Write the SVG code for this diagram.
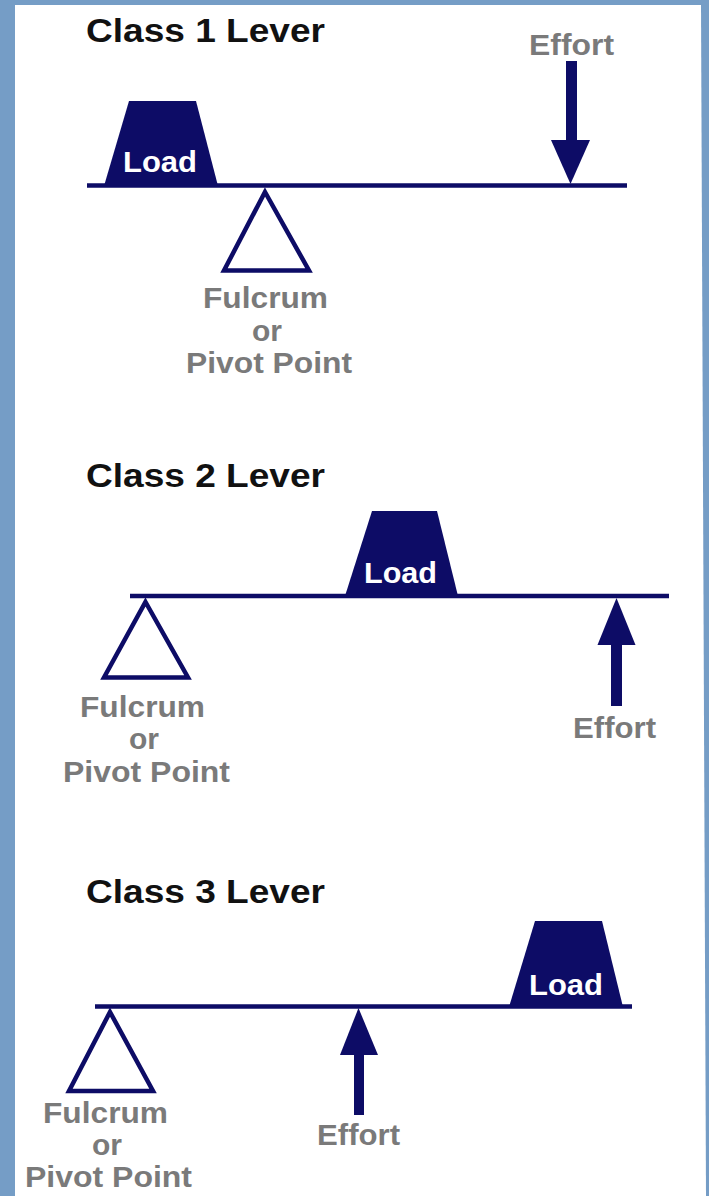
<svg xmlns="http://www.w3.org/2000/svg" width="709" height="1196" viewBox="0 0 709 1196">
<style>
.title{font-family:"Liberation Sans",Arial,sans-serif;font-weight:bold;font-size:33px;fill:#111111}
.lbl{font-family:"Liberation Sans",Arial,sans-serif;font-weight:bold;font-size:30px;fill:#7a7a7a;text-anchor:middle}
.load{font-family:"Liberation Sans",Arial,sans-serif;font-weight:bold;font-size:30px;fill:#ffffff;text-anchor:middle}
.navy{fill:#0d0c66}
.beam{stroke:#0d0c66;stroke-width:4.5;fill:none}
.fulc{stroke:#0d0c66;stroke-width:4.5;fill:#ffffff;stroke-linejoin:miter}
</style>
<rect x="0" y="0" width="709" height="1196" fill="#759dc6"/>
<polygon points="15,5 701,5 706,1196 15,1196" fill="#ffffff"/>

<g id="class1">
  <text class="title" x="86" y="42" textLength="239" lengthAdjust="spacingAndGlyphs">Class 1 Lever</text>
  <line class="beam" x1="87" y1="185.5" x2="627" y2="185.5"/>
  <g id="load1">
    <polygon class="navy" points="129,101 196,101 218,186 104,186"/>
    <text class="load" x="160" y="172" textLength="74" lengthAdjust="spacingAndGlyphs">Load</text>
  </g>
  <g id="fulcrum1">
    <polygon class="fulc" points="265,192 309,270.5 224,270.5"/>
    <text class="lbl" x="265.5" y="308" textLength="125" lengthAdjust="spacingAndGlyphs">Fulcrum</text>
    <text class="lbl" x="267" y="341" textLength="30" lengthAdjust="spacingAndGlyphs">or</text>
    <text class="lbl" x="269" y="373" textLength="166" lengthAdjust="spacingAndGlyphs">Pivot Point</text>
  </g>
  <g id="effort1">
    <text class="lbl" x="571.5" y="55" textLength="85" lengthAdjust="spacingAndGlyphs">Effort</text>
  </g>
</g>

<g id="class2">
  <text class="title" x="86" y="487" textLength="239" lengthAdjust="spacingAndGlyphs">Class 2 Lever</text>
  <line class="beam" x1="130" y1="596" x2="669" y2="596"/>
  <g id="load2">
    <polygon class="navy" points="372,511 437,511 458,596 345,596"/>
    <text class="load" x="400.5" y="583" textLength="73" lengthAdjust="spacingAndGlyphs">Load</text>
  </g>
  <g id="fulcrum2">
    <polygon class="fulc" points="145.5,602 188,677.5 104,677.5"/>
    <text class="lbl" x="142.5" y="717" textLength="125" lengthAdjust="spacingAndGlyphs">Fulcrum</text>
    <text class="lbl" x="144" y="749" textLength="30" lengthAdjust="spacingAndGlyphs">or</text>
    <text class="lbl" x="146.5" y="782" textLength="167" lengthAdjust="spacingAndGlyphs">Pivot Point</text>
  </g>
  <g id="effort2">
    <text class="lbl" x="614.5" y="738" textLength="83" lengthAdjust="spacingAndGlyphs">Effort</text>
  </g>
</g>

<g id="class3">
  <text class="title" x="86" y="903" textLength="239" lengthAdjust="spacingAndGlyphs">Class 3 Lever</text>
  <line class="beam" x1="95" y1="1006.5" x2="632" y2="1006.5"/>
  <g id="load3">
    <polygon class="navy" points="535,921 602,921 623,1007 509,1007"/>
    <text class="load" x="566" y="995" textLength="74" lengthAdjust="spacingAndGlyphs">Load</text>
  </g>
  <g id="fulcrum3">
    <polygon class="fulc" points="110,1012 153,1091 69,1091"/>
    <text class="lbl" x="105.5" y="1123" textLength="125" lengthAdjust="spacingAndGlyphs">Fulcrum</text>
    <text class="lbl" x="107" y="1155" textLength="30" lengthAdjust="spacingAndGlyphs">or</text>
    <text class="lbl" x="108.5" y="1187" textLength="167" lengthAdjust="spacingAndGlyphs">Pivot Point</text>
  </g>
  <g id="effort3">
    <text class="lbl" x="358.5" y="1145" textLength="83" lengthAdjust="spacingAndGlyphs">Effort</text>
  </g>
</g>

<g id="connectors">
  <rect class="navy" x="566" y="61" width="11" height="82"/>
  <polygon class="navy" points="551,140 590,140 570.5,184"/>
  <rect class="navy" x="611" y="643" width="11" height="63"/>
  <polygon class="navy" points="597.5,645 635.5,645 616.5,598"/>
  <rect class="navy" x="354" y="1053" width="10" height="62"/>
  <polygon class="navy" points="340,1055 378,1055 358.5,1008"/>
</g>
</svg>
